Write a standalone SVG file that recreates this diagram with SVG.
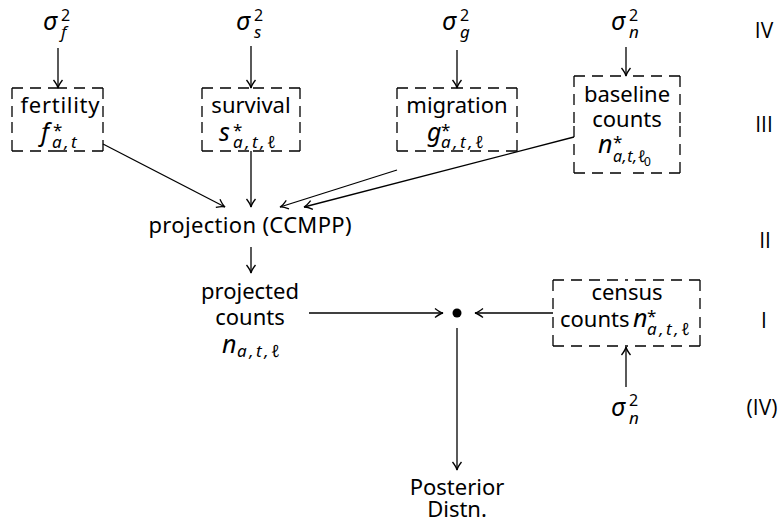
<svg xmlns="http://www.w3.org/2000/svg" width="779" height="523" viewBox="0 0 779 523">
<style>
text{font-family:"Noto Sans","Open Sans","DejaVu Sans",sans-serif;fill:#000}
.t{font-size:22px;text-anchor:middle}
.r{font-family:"Open Sans","Liberation Sans",sans-serif;font-size:21px;text-anchor:middle}
.m{font-size:25px;font-style:italic}
.sp{font-size:16px}
.sb{font-size:17px;font-style:italic;letter-spacing:2.5px}
.st{font-size:17px}
.ln{stroke:#000;stroke-width:1.3;fill:none}
.box{stroke:#000;stroke-width:1.3;fill:none;stroke-dasharray:11 7}
</style>
<defs>
<marker id="ah" viewBox="-10 -6 12 12" refX="0" refY="0" markerWidth="12" markerHeight="12" markerUnits="userSpaceOnUse" orient="auto">
<path d="M-8,-4.5 Q-3,-0.6 0,0 Q-3,0.6 -8,4.5" fill="none" stroke="#000" stroke-width="1.3"/>
</marker>
</defs>

<g id="sigma_f">
<text class="m" x="43" y="30">σ</text><text class="sp" x="61" y="21">2</text><text class="sb" x="61" y="38">f</text>
</g>
<g id="sigma_s">
<text class="m" x="236" y="30">σ</text><text class="sp" x="254" y="21">2</text><text class="sb" x="254" y="38">s</text>
</g>
<g id="sigma_g">
<text class="m" x="442" y="30">σ</text><text class="sp" x="460" y="21">2</text><text class="sb" x="460" y="38">g</text>
</g>
<g id="sigma_n_top">
<text class="m" x="611" y="30">σ</text><text class="sp" x="629" y="21">2</text><text class="sb" x="629" y="38">n</text>
</g>

<g id="fertility">
<path class="box" d="M12,88 H57.5 M12,88 V119.5 M103,88 H57.5 M103,88 V119.5 M12,151 H57.5 M12,151 V119.5 M103,151 H57.5 M103,151 V119.5"/>
<text class="t" x="60" y="113" textLength="79" lengthAdjust="spacing">fertility</text>
<text class="m" x="41" y="141">f</text><text class="st" x="53" y="136">*</text><text class="sb" x="52" y="148">a,t</text>
</g>

<g id="survival">
<path class="box" d="M202,88 H251 M202,88 V119.5 M300,88 H251 M300,88 V119.5 M202,151 H251 M202,151 V119.5 M300,151 H251 M300,151 V119.5"/>
<text class="t" x="251" y="113">survival</text>
<text class="m" x="219" y="141">s</text><text class="st" x="233" y="136">*</text><text class="sb" x="233" y="148">a,t,ℓ</text>
</g>

<g id="migration">
<path class="box" d="M397,88 H457 M397,88 V119.5 M517,88 H457 M517,88 V119.5 M397,151 H457 M397,151 V119.5 M517,151 H457 M517,151 V119.5"/>
<text class="t" x="457" y="113">migration</text>
<text class="m" x="427" y="141">g</text><text class="st" x="441" y="136">*</text><text class="sb" x="441" y="148">a,t,ℓ</text>
</g>

<g id="baseline">
<path class="box" d="M574,76 H627 M574,76 V124.5 M680,76 H627 M680,76 V124.5 M574,173 H627 M574,173 V124.5 M680,173 H627 M680,173 V124.5"/>
<text class="t" x="627" y="102">baseline</text>
<text class="t" x="627" y="127">counts</text>
<text class="m" x="598" y="153">n</text><text class="st" x="613" y="148">*</text><text class="sb" style="font-size:16px;letter-spacing:0.5px" x="613" y="162">a,t,ℓ</text><text style="font-size:12px" x="644" y="166">0</text>
</g>

<g id="projection">
<text class="t" x="250" y="233" textLength="203" lengthAdjust="spacing">projection (CCMPP)</text>
</g>

<g id="projected">
<text class="t" x="250" y="299">projected</text>
<text class="t" x="250" y="325">counts</text>
<text class="m" x="222" y="353">n</text><text class="sb" x="237" y="357">a,t,ℓ</text>
</g>

<g id="likelihood">
<circle cx="457" cy="313" r="4.5" fill="#000"/>
</g>

<g id="census">
<path class="box" d="M553,280 H626.5 M553,280 V313 M700,280 H626.5 M700,280 V313 M553,346 H626.5 M553,346 V313 M700,346 H626.5 M700,346 V313"/>
<text class="t" x="627" y="300">census</text>
<text style="font-size:22px" x="560" y="327">counts</text>
<text class="m" x="633" y="327">n</text><text class="st" x="647" y="322">*</text><text class="sb" x="647" y="335">a,t,ℓ</text>
</g>

<g id="sigma_n_bottom">
<text class="m" x="611" y="416">σ</text><text class="sp" x="629" y="406">2</text><text class="sb" x="629" y="424">n</text>
</g>

<g id="posterior">
<text class="t" x="457" y="495">Posterior</text>
<text class="t" x="457" y="517">Distn.</text>
</g>

<g id="levels">
<text class="r" x="764" y="38">IV</text>
<text class="r" x="764" y="132">III</text>
<text class="r" x="765" y="248">II</text>
<text class="r" x="764" y="328">I</text>
<text class="r" x="762" y="415">(IV)</text>
</g>

<g id="connectors">
<path class="ln" d="M58,48 V88" marker-end="url(#ah)"/>
<path class="ln" d="M251,46 V88" marker-end="url(#ah)"/>
<path class="ln" d="M457,50 V88" marker-end="url(#ah)"/>
<path class="ln" d="M626,47 V76" marker-end="url(#ah)"/>
<path class="ln" d="M103,144 L225,207" marker-end="url(#ah)"/>
<path class="ln" d="M251,151 V207" marker-end="url(#ah)"/>
<path class="ln" d="M397,170 L280,207" marker-end="url(#ah)"/>
<path class="ln" d="M574,137 L304,207" marker-end="url(#ah)"/>
<path class="ln" d="M251,247 V273" marker-end="url(#ah)"/>
<path class="ln" d="M309,313 H443" marker-end="url(#ah)"/>
<path class="ln" d="M553,313 H475" marker-end="url(#ah)"/>
<path class="ln" d="M626,387 V347" marker-end="url(#ah)"/>
<path class="ln" d="M457,328 V470" marker-end="url(#ah)"/>
</g>
</svg>
